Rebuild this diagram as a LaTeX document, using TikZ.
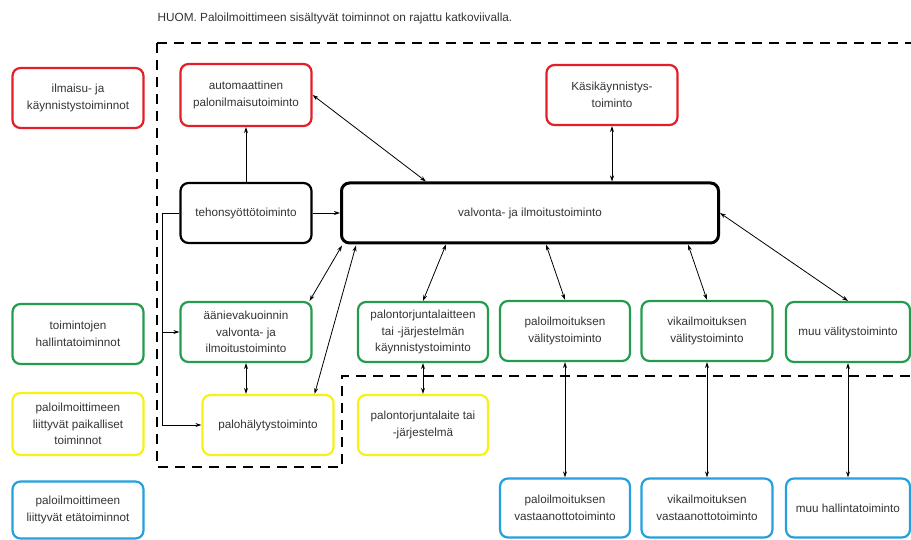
\documentclass[tikz,border=0pt]{standalone}
\usepackage{fontspec}
\setmainfont{Liberation Sans}
\usepackage{xcolor}
\usetikzlibrary{arrows.meta}
\definecolor{boxred}{RGB}{226,30,38}
\definecolor{boxgreen}{RGB}{36,156,78}
\definecolor{boxyellow}{RGB}{246,242,24}
\definecolor{boxblue}{RGB}{36,160,222}

\begin{document}
\begin{tikzpicture}[x=1pt,y=-1pt,>={Stealth[length=6pt,width=4pt]},
    box/.style={draw,rounded corners=8pt,align=center,line width=2.2pt,minimum width=131pt,minimum height=60pt,inner sep=2pt,font=\fontsize{11.7}{16.5}\selectfont,text=black!80},
    redbox/.style={box,draw=boxred},
    greenbox/.style={box,draw=boxgreen},
    yellowbox/.style={box,draw=boxyellow},
    bluebox/.style={box,draw=boxblue},
    blackbox/.style={box,draw=black},
    link/.style={<->,line width=0.8pt},
    onelink/.style={->,line width=0.8pt},
    dashbox/.style={line width=2.8pt,dash pattern=on 10pt off 7pt}]
    \useasboundingbox (0,0) rectangle (911,540);

    \node[anchor=west,font=\fontsize{11.8}{13}\selectfont,text=black!80] (T) at (154,18) {HUOM. Paloilmoittimeen sisältyvät toiminnot on rajattu katkoviivalla.};

    \draw[dashbox] (157,43) -- (911,43);
    \draw[dashbox] (157,43) -- (157,467) -- (342,467) -- (342,376) -- (911,376);

    \node[redbox] (A) at (78,98) {ilmaisu- ja\\käynnistystoiminnot};
    \node[greenbox] (B) at (78,334) {toimintojen\\hallintatoiminnot};
    \node[yellowbox,minimum height=62pt] (C) at (78,424) {paloilmoittimeen\\liittyvät paikalliset\\toiminnot};
    \node[bluebox,minimum height=57pt] (D) at (78,510) {paloilmoittimeen\\liittyvät etätoiminnot};

    \node[redbox,minimum height=62pt] (E) at (246,95) {automaattinen\\palonilmaisutoiminto};
    \node[redbox] (F) at (612,95) {Käsikäynnistys-\\toiminto};
    \node[blackbox] (G) at (246,213) {tehonsyöttötoiminto};
    \node[blackbox,line width=3pt,minimum width=377pt] (H) at (530,213) {valvonta- ja ilmoitustoiminto};

    \node[greenbox] (I) at (246,332) {äänievakuoinnin\\valvonta- ja\\ilmoitustoiminto};
    \node[greenbox,minimum width=130pt] (J) at (423,332) {palontorjuntalaitteen\\tai -järjestelmän\\käynnistystoiminto};
    \node[greenbox,minimum width=130pt] (K) at (565,331) {paloilmoituksen\\välitystoiminto};
    \node[greenbox] (L) at (707,331) {vikailmoituksen\\välitystoiminto};
    \node[greenbox,minimum width=124pt] (M) at (848,332) {muu välitystoiminto};

    \node[yellowbox] (N) at (268,425) {palohälytystoiminto};
    \node[yellowbox,minimum width=130pt] (O) at (423,425) {palontorjuntalaite tai\\-järjestelmä};

    \node[bluebox,minimum width=130pt,minimum height=59pt] (P) at (565,508) {paloilmoituksen\\vastaanottotoiminto};
    \node[bluebox,minimum height=59pt] (Q) at (707,508) {vikailmoituksen\\vastaanottotoiminto};
    \node[bluebox,minimum width=124pt,minimum height=59pt] (R) at (848,508) {muu hallintatoiminto};

    \draw[onelink] (G) -- (E);
    \draw[onelink] (G) -- (H);
    \coordinate (S) at ([xshift=-17pt]G.west);
    \draw[onelink] (G.west) -- (S) |- (I.west);
    \draw[onelink] (S) |- (N.west);

    \draw[link] (E.east) -- ([xshift=86pt]H.north west);
    \draw[link] (F.south) -- (F.south |- H.north);
    \draw[link] (H.east) -- (M.north);
    \draw[link] ([xshift=2pt,yshift=-1pt]H.south west) -- ([xshift=-3pt]I.north east);
    \draw[link] ([xshift=16pt,yshift=-1pt]H.south west) -- ([xshift=-20pt]N.north east);
    \draw[link] ([xshift=106pt]H.south west) -- (J.north);
    \draw[link] ([xshift=206pt]H.south west) -- (K.north);
    \draw[link] ([xshift=348pt]H.south west) -- (L.north);

    \draw[link] (I.south) -- (I.south |- N.north);
    \draw[link] (J) -- (O);
    \draw[link] (K) -- (P);
    \draw[link] (L) -- (Q);
    \draw[link] (M) -- (R);
\end{tikzpicture}
\end{document}
